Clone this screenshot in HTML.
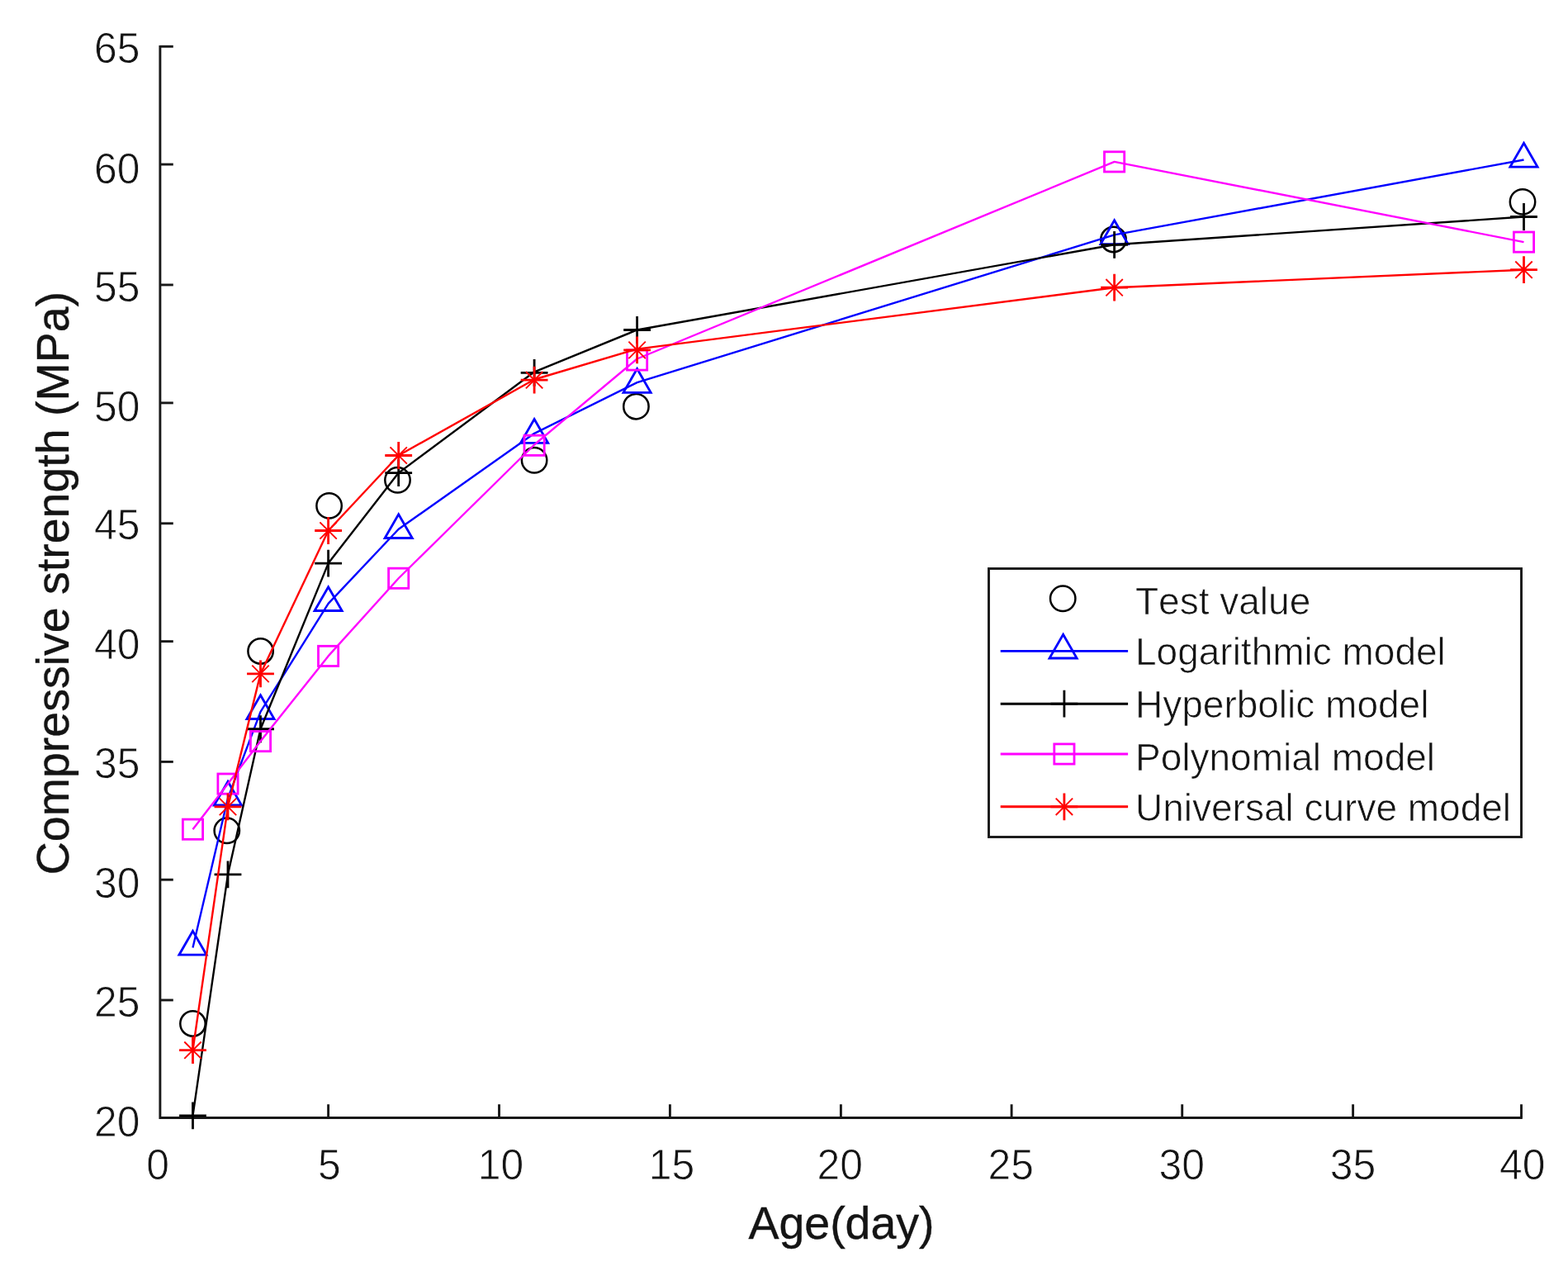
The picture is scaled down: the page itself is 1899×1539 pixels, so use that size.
<!DOCTYPE html>
<html><head><meta charset="utf-8"><title>Compressive strength vs age</title><style>html,body{margin:0;padding:0;background:#fff;}svg{display:block;} text{font-kerning:none;}</style></head><body>
<svg width="1899" height="1539" viewBox="0 0 1899 1539">
<rect width="1899" height="1539" fill="#ffffff"/>
<g stroke="#181818" stroke-width="2.9" fill="none" stroke-linecap="butt">
<path d="M193.9,54.9 V1354.95 M192.45,1353.5 H1843.8"/>
<path d="M397.6,1353.5 V1337.2"/>
<path d="M604.5,1353.5 V1337.2"/>
<path d="M811.4,1353.5 V1337.2"/>
<path d="M1018.4,1353.5 V1337.2"/>
<path d="M1225.1,1353.5 V1337.2"/>
<path d="M1431.7,1353.5 V1337.2"/>
<path d="M1638.6,1353.5 V1337.2"/>
<path d="M1842.5,1353.5 V1337.2"/>
<path d="M193.9,56.3 H209.8"/>
<path d="M193.9,199.05 H209.8"/>
<path d="M193.9,344.95 H209.8"/>
<path d="M193.9,487.87 H209.8"/>
<path d="M193.9,633.78 H209.8"/>
<path d="M193.9,776.63 H209.8"/>
<path d="M193.9,922.42 H209.8"/>
<path d="M193.9,1065.21 H209.8"/>
<path d="M193.9,1210.99 H209.8"/>
</g>
<g font-family="Liberation Sans, Arial, sans-serif" font-size="52.5" fill="#141414" stroke="#fff" stroke-width="0.8">
<text transform="translate(191.1,1428.2) scale(0.95,1)" text-anchor="middle">0</text>
<text transform="translate(398.9,1428.2) scale(0.95,1)" text-anchor="middle">5</text>
<text transform="translate(606.6,1428.2) scale(0.95,1)" text-anchor="middle">10</text>
<text transform="translate(813.5,1428.2) scale(0.95,1)" text-anchor="middle">15</text>
<text transform="translate(1017.2,1428.2) scale(0.95,1)" text-anchor="middle">20</text>
<text transform="translate(1224.2,1428.2) scale(0.95,1)" text-anchor="middle">25</text>
<text transform="translate(1431.2,1428.2) scale(0.95,1)" text-anchor="middle">30</text>
<text transform="translate(1638.4,1428.2) scale(0.95,1)" text-anchor="middle">35</text>
<text transform="translate(1843.8,1428.2) scale(0.95,1)" text-anchor="middle">40</text>
<text transform="translate(169.4,75.7) scale(0.95,1)" text-anchor="end">65</text>
<text transform="translate(169.4,221.5) scale(0.95,1)" text-anchor="end">60</text>
<text transform="translate(169.4,364.5) scale(0.95,1)" text-anchor="end">55</text>
<text transform="translate(169.4,510.3) scale(0.95,1)" text-anchor="end">50</text>
<text transform="translate(169.4,652.9) scale(0.95,1)" text-anchor="end">45</text>
<text transform="translate(169.4,798.3) scale(0.95,1)" text-anchor="end">40</text>
<text transform="translate(169.4,941.6) scale(0.95,1)" text-anchor="end">35</text>
<text transform="translate(169.4,1087.3) scale(0.95,1)" text-anchor="end">30</text>
<text transform="translate(169.4,1230.5) scale(0.95,1)" text-anchor="end">25</text>
<text transform="translate(169.4,1376.1) scale(0.95,1)" text-anchor="end">20</text>
</g>
<text x="1019" y="1500.2" text-anchor="middle" font-family="Liberation Sans, Arial, sans-serif" font-size="55.5" fill="#141414" stroke="#141414" stroke-width="0.4">Age(day)</text>
<text transform="translate(83.2,706.1) rotate(-90)" x="0" y="0" text-anchor="middle" font-family="Liberation Sans, Arial, sans-serif" font-size="55.5" fill="#141414" stroke="#141414" stroke-width="0.4">Compressive strength (MPa)</text>
<circle cx="233.5" cy="1239.5" r="15.2" fill="none" stroke="#000000" stroke-width="2.5"/>
<circle cx="274.8" cy="1005.8" r="15.2" fill="none" stroke="#000000" stroke-width="2.5"/>
<circle cx="315.6" cy="788.5" r="15.2" fill="none" stroke="#000000" stroke-width="2.5"/>
<circle cx="398.6" cy="612.4" r="15.2" fill="none" stroke="#000000" stroke-width="2.5"/>
<circle cx="481.5" cy="581.3" r="15.2" fill="none" stroke="#000000" stroke-width="2.5"/>
<circle cx="647.1" cy="557.3" r="15.2" fill="none" stroke="#000000" stroke-width="2.5"/>
<circle cx="770.4" cy="492.2" r="15.2" fill="none" stroke="#000000" stroke-width="2.5"/>
<circle cx="1348.5" cy="290" r="15.2" fill="none" stroke="#000000" stroke-width="2.5"/>
<circle cx="1844" cy="244.4" r="15.2" fill="none" stroke="#000000" stroke-width="2.5"/>
<polyline points="233.5,1147.6 276,966.4 315.5,861.9 397.6,730.9 482.7,640.8 647.1,524.8 771.6,463.2 1349.6,284.4 1845.5,193.5" fill="none" stroke="#0000ff" stroke-width="2.4" stroke-linejoin="round"/>
<path d="M233.5,1127.4 L250.1,1156.2 L216.9,1156.2 Z" fill="none" stroke="#0000ff" stroke-width="2.8" stroke-linejoin="miter"/>
<path d="M276,946.2 L292.6,975 L259.4,975 Z" fill="none" stroke="#0000ff" stroke-width="2.8" stroke-linejoin="miter"/>
<path d="M315.5,841.7 L332.1,870.5 L298.9,870.5 Z" fill="none" stroke="#0000ff" stroke-width="2.8" stroke-linejoin="miter"/>
<path d="M397.6,710.7 L414.2,739.5 L381,739.5 Z" fill="none" stroke="#0000ff" stroke-width="2.8" stroke-linejoin="miter"/>
<path d="M482.7,622.7 L499.3,651.5 L466.1,651.5 Z" fill="none" stroke="#0000ff" stroke-width="2.8" stroke-linejoin="miter"/>
<path d="M647.1,507.5 L663.7,536.3 L630.5,536.3 Z" fill="none" stroke="#0000ff" stroke-width="2.8" stroke-linejoin="miter"/>
<path d="M771.6,446.5 L788.2,475.3 L755,475.3 Z" fill="none" stroke="#0000ff" stroke-width="2.8" stroke-linejoin="miter"/>
<path d="M1349.6,266.8 L1366.2,295.6 L1333,295.6 Z" fill="none" stroke="#0000ff" stroke-width="2.8" stroke-linejoin="miter"/>
<path d="M1845.5,173.3 L1862.1,202.1 L1828.9,202.1 Z" fill="none" stroke="#0000ff" stroke-width="2.8" stroke-linejoin="miter"/>
<polyline points="233.5,1350.8 276,1058.8 315.5,882.75 397.6,682.1 482.7,572.6 647.1,450.3 771.6,399.5 1349.6,296.3 1845.5,262.5" fill="none" stroke="#000000" stroke-width="2.4" stroke-linejoin="round"/>
<path d="M217.1,1350.8 H249.9 M233.5,1334.4 V1367.2" fill="none" stroke="#000000" stroke-width="2.8"/>
<path d="M259.6,1058.8 H292.4 M276,1042.4 V1075.2" fill="none" stroke="#000000" stroke-width="2.8"/>
<path d="M299.1,882.75 H331.9 M315.5,866.35 V899.15" fill="none" stroke="#000000" stroke-width="2.8"/>
<path d="M381.2,682.1 H414 M397.6,665.7 V698.5" fill="none" stroke="#000000" stroke-width="2.8"/>
<path d="M466.3,572.6 H499.1 M482.7,556.2 V589" fill="none" stroke="#000000" stroke-width="2.8"/>
<path d="M630.7,451.3 H663.5 M647.1,434.9 V467.7" fill="none" stroke="#000000" stroke-width="2.8"/>
<path d="M755.2,399.5 H788 M771.6,383.1 V415.9" fill="none" stroke="#000000" stroke-width="2.8"/>
<path d="M1333.2,296.3 H1366 M1349.6,279.9 V312.7" fill="none" stroke="#000000" stroke-width="2.8"/>
<path d="M1829.1,262.5 H1861.9 M1845.5,246.1 V278.9" fill="none" stroke="#000000" stroke-width="2.8"/>
<polyline points="233.5,1004.2 276,949.1 315.5,897.6 397.6,794.4 482.7,700.25 647.1,538.5 771.6,434.5 1349.6,195.9 1845.5,293.1" fill="none" stroke="#ff00ff" stroke-width="2.4" stroke-linejoin="round"/>
<rect x="221.4" y="992.1" width="24.2" height="24.2" fill="none" stroke="#ff00ff" stroke-width="2.8"/>
<rect x="263.9" y="937" width="24.2" height="24.2" fill="none" stroke="#ff00ff" stroke-width="2.8"/>
<rect x="303.4" y="885.5" width="24.2" height="24.2" fill="none" stroke="#ff00ff" stroke-width="2.8"/>
<rect x="385.5" y="782.3" width="24.2" height="24.2" fill="none" stroke="#ff00ff" stroke-width="2.8"/>
<rect x="470.6" y="688.15" width="24.2" height="24.2" fill="none" stroke="#ff00ff" stroke-width="2.8"/>
<rect x="635" y="527.2" width="24.2" height="24.2" fill="none" stroke="#ff00ff" stroke-width="2.8"/>
<rect x="759.5" y="423.9" width="24.2" height="24.2" fill="none" stroke="#ff00ff" stroke-width="2.8"/>
<rect x="1337.5" y="183.8" width="24.2" height="24.2" fill="none" stroke="#ff00ff" stroke-width="2.8"/>
<rect x="1833.4" y="281" width="24.2" height="24.2" fill="none" stroke="#ff00ff" stroke-width="2.8"/>
<polyline points="233.5,1271.7 276,976.9 315.5,815.9 397.6,642.5 482.7,551.5 647.1,459.5 771.6,422.6 1349.6,348.2 1845.5,326.7" fill="none" stroke="#ff0000" stroke-width="2.4" stroke-linejoin="round"/>
<path d="M217.1,1271.7 H249.9 M233.5,1255.3 V1288.1" fill="none" stroke="#ff0000" stroke-width="2.8"/><path d="M223.3,1261.5 L243.7,1281.9 M223.3,1281.9 L243.7,1261.5" fill="none" stroke="#ff0000" stroke-width="1.9"/>
<path d="M259.6,976.9 H292.4 M276,960.5 V993.3" fill="none" stroke="#ff0000" stroke-width="2.8"/><path d="M265.8,966.7 L286.2,987.1 M265.8,987.1 L286.2,966.7" fill="none" stroke="#ff0000" stroke-width="1.9"/>
<path d="M299.1,815.9 H331.9 M315.5,799.5 V832.3" fill="none" stroke="#ff0000" stroke-width="2.8"/><path d="M305.3,805.7 L325.7,826.1 M305.3,826.1 L325.7,805.7" fill="none" stroke="#ff0000" stroke-width="1.9"/>
<path d="M381.2,642.5 H414 M397.6,626.1 V658.9" fill="none" stroke="#ff0000" stroke-width="2.8"/><path d="M387.4,632.3 L407.8,652.7 M387.4,652.7 L407.8,632.3" fill="none" stroke="#ff0000" stroke-width="1.9"/>
<path d="M466.3,551.5 H499.1 M482.7,535.1 V567.9" fill="none" stroke="#ff0000" stroke-width="2.8"/><path d="M472.5,541.3 L492.9,561.7 M472.5,561.7 L492.9,541.3" fill="none" stroke="#ff0000" stroke-width="1.9"/>
<path d="M630.7,460.2 H663.5 M647.1,443.8 V476.6" fill="none" stroke="#ff0000" stroke-width="2.8"/><path d="M636.9,450 L657.3,470.4 M636.9,470.4 L657.3,450" fill="none" stroke="#ff0000" stroke-width="1.9"/>
<path d="M755.2,423.9 H788 M771.6,407.5 V440.3" fill="none" stroke="#ff0000" stroke-width="2.8"/><path d="M761.4,413.7 L781.8,434.1 M761.4,434.1 L781.8,413.7" fill="none" stroke="#ff0000" stroke-width="1.9"/>
<path d="M1333.2,348.2 H1366 M1349.6,331.8 V364.6" fill="none" stroke="#ff0000" stroke-width="2.8"/><path d="M1339.4,338 L1359.8,358.4 M1339.4,358.4 L1359.8,338" fill="none" stroke="#ff0000" stroke-width="1.9"/>
<path d="M1829.1,326.7 H1861.9 M1845.5,310.3 V343.1" fill="none" stroke="#ff0000" stroke-width="2.8"/><path d="M1835.3,316.5 L1855.7,336.9 M1835.3,336.9 L1855.7,316.5" fill="none" stroke="#ff0000" stroke-width="1.9"/>
<rect x="1197.5" y="688.5" width="645" height="325" fill="#ffffff" stroke="#181818" stroke-width="2.9"/>
<circle cx="1287.2" cy="724.8" r="15.2" fill="none" stroke="#000000" stroke-width="2.5"/>
<path d="M1211.7,788.4 H1366.1" stroke="#0000ff" stroke-width="2.9"/><path d="M1287.6,768.2 L1304.2,797 L1271,797 Z" fill="none" stroke="#0000ff" stroke-width="2.8" stroke-linejoin="miter"/>
<path d="M1211.7,852.2 H1366.1" stroke="#000000" stroke-width="2.9"/><path d="M1272.5,852.2 H1305.3 M1288.9,835.8 V868.6" fill="none" stroke="#000000" stroke-width="2.8"/>
<path d="M1211.7,913.0 H1366.1" stroke="#ff00ff" stroke-width="2.9"/><rect x="1276.8" y="900.9" width="24.2" height="24.2" fill="none" stroke="#ff00ff" stroke-width="2.8"/>
<path d="M1211.7,976.8 H1366.1" stroke="#ff0000" stroke-width="2.9"/><path d="M1272.5,976.8 H1305.3 M1288.9,960.4 V993.2" fill="none" stroke="#ff0000" stroke-width="2.8"/><path d="M1278.7,966.6 L1299.1,987 M1278.7,987 L1299.1,966.6" fill="none" stroke="#ff0000" stroke-width="1.9"/>
<g font-family="Liberation Sans, Arial, sans-serif" font-size="46" fill="#141414" stroke="#fff" stroke-width="0.7">
<text x="1375" y="744.2">Test value</text>
<text x="1375" y="804.8">Logarithmic model</text>
<text x="1375" y="868.7">Hyperbolic model</text>
<text x="1375" y="932.7">Polynomial model</text>
<text x="1375" y="993.7">Universal curve model</text>
</g>
</svg>
</body></html>
